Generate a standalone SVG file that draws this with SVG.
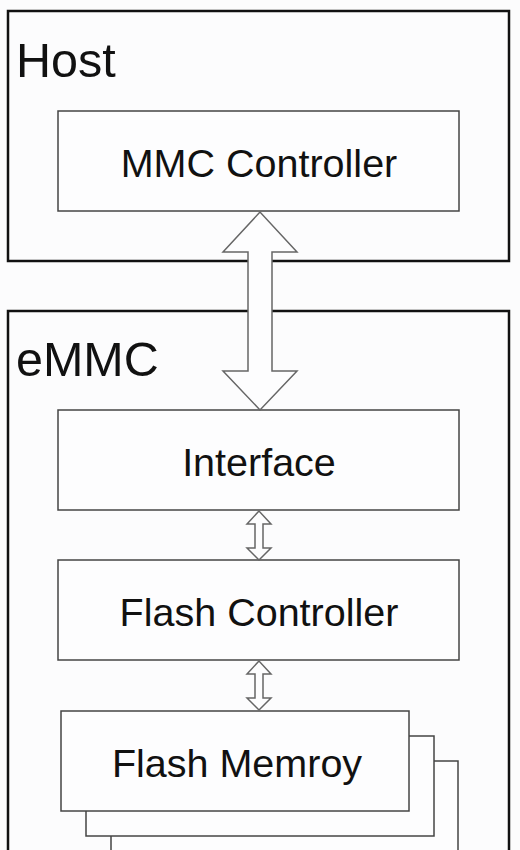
<svg xmlns="http://www.w3.org/2000/svg" width="520" height="850" viewBox="0 0 520 850">
<style>
.outer{fill:none;stroke:#111;stroke-width:2.5}
.box{fill:#fdfdfe;stroke:#444;stroke-width:1.5}
.arrow{fill:#fdfdfe;stroke:#666;stroke-width:1.5;stroke-linejoin:miter}
.big{font-family:"Liberation Sans",Arial,sans-serif;font-size:48.5px;fill:#111}
.lbl{font-family:"Liberation Sans",Arial,sans-serif;font-size:39.5px;fill:#111;text-anchor:middle}
</style>
<rect width="520" height="850" fill="#fcfcfd"/>
<g id="host">
<rect class="outer" x="8" y="11" width="501" height="250"/>
<text class="big" x="16" y="77">Host</text>
</g>
<g id="mmc-controller">
<rect class="box" x="58" y="111" width="401" height="100"/>
<text class="lbl" x="259" y="177">MMC Controller</text>
</g>
<g id="emmc">
<path class="outer" d="M8,860 V311 H509 V860"/>
<text class="big" x="16" y="376">eMMC</text>
</g>
<g id="interface">
<rect class="box" x="58" y="410" width="401" height="100"/>
<text class="lbl" x="259" y="476">Interface</text>
</g>
<g id="flash-controller">
<rect class="box" x="58" y="560" width="401" height="100"/>
<text class="lbl" x="259" y="626">Flash Controller</text>
</g>
<g id="flash-memory">
<rect class="box" x="111" y="761" width="347" height="100"/>
<rect class="box" x="86" y="736" width="348" height="100"/>
<rect class="box" x="61" y="711" width="348" height="100"/>
<text class="lbl" x="237" y="777">Flash Memroy</text>
</g>
<g id="connectors">
<polygon class="arrow" points="260,212 223,252 248,252 248,371 223,371 260,410 297,371 272,371 272,252 297,252"/>
<polygon class="arrow" points="259,511 247,524 255,524 255,548 247,548 259,560 271,548 263,548 263,524 271,524"/>
<polygon class="arrow" points="259,661 247,674 255,674 255,698 247,698 259,710 271,698 263,698 263,674 271,674"/>
</g>
</svg>
